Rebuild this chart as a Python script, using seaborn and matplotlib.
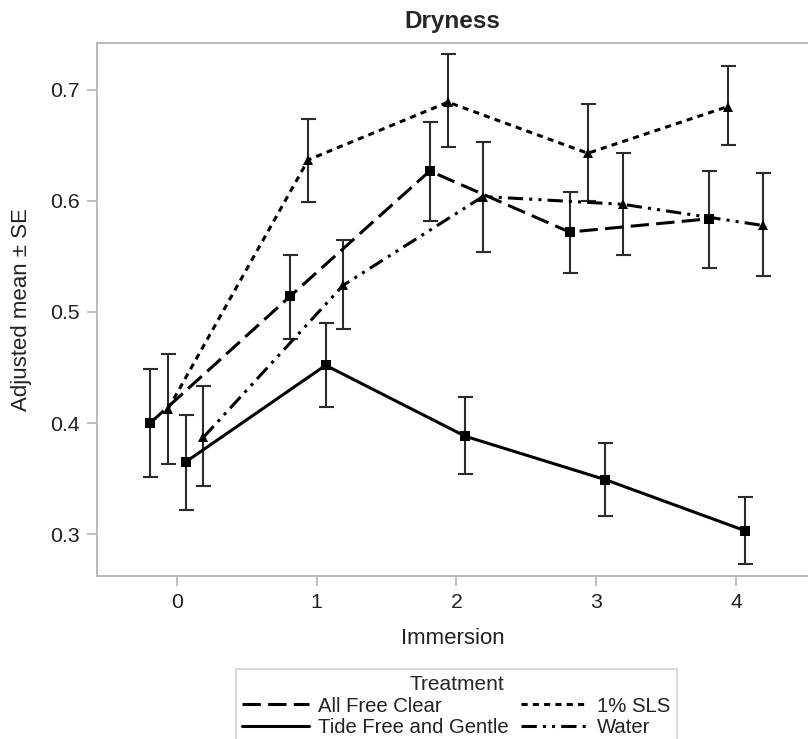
import numpy as np
import pandas as pd
import matplotlib
matplotlib.use("Agg")
import matplotlib.pyplot as plt
import seaborn as sns
from matplotlib.lines import Line2D

# ---- data ----
immersion = [0, 1, 2, 3, 4]
treatments = ["All Free Clear", "Tide Free and Gentle", "1% SLS", "Water"]

afc_mean = [0.400, 0.514, 0.627, 0.572, 0.584]
afc_lo   = [0.351, 0.476, 0.582, 0.535, 0.540]
afc_hi   = [0.449, 0.551, 0.671, 0.608, 0.627]

tide_mean = [0.365, 0.452, 0.388, 0.349, 0.303]
tide_lo   = [0.322, 0.414, 0.354, 0.316, 0.273]
tide_hi   = [0.407, 0.490, 0.423, 0.382, 0.333]

sls_mean = [0.413, 0.637, 0.689, 0.643, 0.685]
sls_lo   = [0.363, 0.599, 0.649, 0.600, 0.650]
sls_hi   = [0.462, 0.674, 0.732, 0.687, 0.722]

water_mean = [0.387, 0.524, 0.604, 0.597, 0.578]
water_lo   = [0.343, 0.485, 0.554, 0.551, 0.532]
water_hi   = [0.433, 0.565, 0.653, 0.643, 0.625]

# ---- styling ----
sns.set_theme(style="white")
plt.rcParams["font.family"] = ["Liberation Sans", "DejaVu Sans"]

dodge = {"All Free Clear": -0.19, "1% SLS": -0.06,
         "Tide Free and Gentle": 0.065, "Water": 0.19}
dashes = {"All Free Clear": (6, 2.4), "Tide Free and Gentle": "",
          "1% SLS": (2, 1.7), "Water": (5, 2, 1, 2, 1, 2)}
markers = {"All Free Clear": "s", "Tide Free and Gentle": "s",
           "1% SLS": "^", "Water": "^"}

series = {
    "All Free Clear": (afc_mean, afc_lo, afc_hi),
    "Tide Free and Gentle": (tide_mean, tide_lo, tide_hi),
    "1% SLS": (sls_mean, sls_lo, sls_hi),
    "Water": (water_mean, water_lo, water_hi),
}

rows = []
for t in treatments:
    m, lo, hi = series[t]
    for i, x in enumerate(immersion):
        rows.append({"Treatment": t, "Immersion": x,
                     "xpos": x + dodge[t], "mean": m[i],
                     "lo": lo[i], "hi": hi[i]})
df = pd.DataFrame(rows)

fig = plt.figure(figsize=(8.08, 7.39), dpi=100)
ax = fig.add_axes([0.1197, 0.2206, 0.8803, 0.7212])

# error bars
for t in treatments:
    d = df[df.Treatment == t]
    ax.errorbar(d["xpos"], d["mean"],
                yerr=[d["mean"] - d["lo"], d["hi"] - d["mean"]],
                fmt="none", ecolor="#2b2b2b", elinewidth=1.5,
                capsize=5.4, capthick=1.5, zorder=2)

sns.lineplot(data=df, x="xpos", y="mean", hue="Treatment", style="Treatment",
             hue_order=treatments, style_order=treatments,
             palette=["black"] * 4, dashes=dashes, markers=markers,
             markersize=6.8, markeredgewidth=0, linewidth=2.2,
             ax=ax, legend=False, zorder=3, estimator=None, sort=True)

ax.set_xlim(-0.572, 4.515)
ax.set_ylim(0.2622, 0.7423)
ax.set_xticks(immersion)
ax.set_yticks([0.3, 0.4, 0.5, 0.6, 0.7])
ax.set_yticklabels(["0.3", "0.4", "0.5", "0.6", "0.7"])

spine_col = "#b4b4b4"
for s in ["left", "bottom", "top"]:
    ax.spines[s].set_color(spine_col)
    ax.spines[s].set_linewidth(1.3)
ax.spines["right"].set_visible(False)
ax.tick_params(axis="both", which="major", length=7, width=1.2,
               color=spine_col, labelsize=15.3, labelcolor="#222222",
               left=True, bottom=True, pad=5)

ax.set_xlabel("Immersion", fontsize=16, color="#222222", labelpad=12)
ax.set_ylabel("Adjusted mean ± SE", fontsize=16, color="#222222", labelpad=13)
ax.set_title("Dryness", fontsize=17.5, fontweight="bold", pad=11)

# legend
handles = [Line2D([0], [0], color="black", linewidth=2.2,
                  linestyle=(0, dashes[t]) if dashes[t] else "-")
           for t in treatments]
leg = fig.legend(handles, treatments, title="Treatment", ncol=2,
                 loc="upper center", bbox_to_anchor=(0.565, 0.0947),
                 borderaxespad=0.0,
                 frameon=True, fancybox=False, edgecolor="#c8c8c8",
                 fontsize=14.6, title_fontsize=15, handlelength=3.3,
                 handletextpad=0.45, columnspacing=0.6, labelspacing=0.12,
                 borderpad=0.3)
leg.get_frame().set_linewidth(1.2)
for txt in leg.get_texts():
    txt.set_color("#222222")

fig.savefig("out.png", dpi=100)
